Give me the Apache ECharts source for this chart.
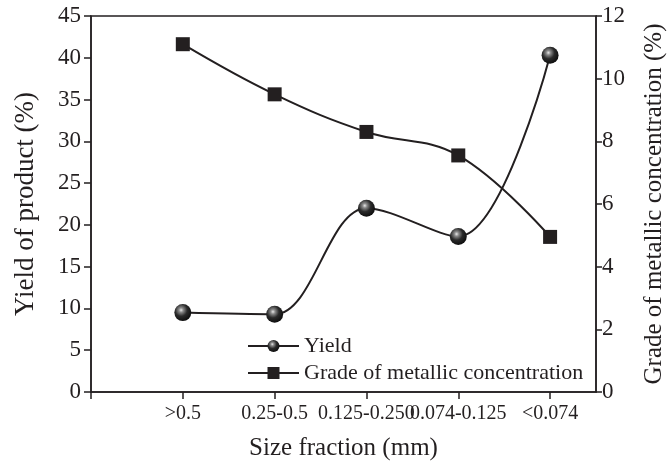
<!DOCTYPE html>
<html><head><meta charset="utf-8">
<script src="https://cdn.jsdelivr.net/npm/echarts@6/dist/echarts.min.js"></script>
<style>html,body{margin:0;padding:0;background:#fff}#c{width:672px;height:463px}</style>
</head><body><div id="c"></div>
<script>
var categories = ['>0.5', '0.25-0.5', '0.125-0.250', '0.074-0.125', '<0.074'];
var yieldValues = [9.5, 9.3, 22.0, 18.6, 40.3];
var gradeValues = [11.1, 9.5, 8.3, 7.55, 4.95];
var leftTicks = [0, 5, 10, 15, 20, 25, 30, 35, 40, 45];
var rightTicks = [0, 2, 4, 6, 8, 10, 12];

var FONT = 'Liberation Serif';
var INK = '#231f20';
var chart = echarts.init(document.getElementById('c'));
var sphere = {
  type: 'radial', x: 0.4, y: 0.35, r: 0.65,
  colorStops: [{offset: 0, color: '#e8e8e8'}, {offset: 0.2, color: '#8a8a8a'}, {offset: 0.55, color: '#2a2a2a'}, {offset: 1, color: '#0e0e0e'}]
};
chart.setOption({
  animation: false,
  grid: {left: 91, right: 76, top: 16, bottom: 71, outerBoundsMode: 'none', containLabel: false,
    show: true, borderColor: INK, borderWidth: 1.5, backgroundColor: 'transparent'},
  legend: {
    left: 247, top: 335, padding: 0, orient: 'vertical', itemGap: 5, itemWidth: 51, itemHeight: 15,
    textStyle: {fontFamily: FONT, fontSize: 22, color: INK},
    data: ['Yield', 'Grade of metallic concentration']
  },
  xAxis: {
    type: 'value', min: 0, max: 5.5, interval: 1,
    name: 'Size fraction (mm)', nameLocation: 'middle', nameGap: 44,
    nameTextStyle: {fontFamily: FONT, fontSize: 25, color: INK},
    axisLine: {show: true, lineStyle: {color: INK, width: 1.5}},
    axisTick: {show: true, length: 7, lineStyle: {color: INK, width: 1.5}, customValues: [0, 1, 2, 3, 4, 5]},
    axisLabel: {fontFamily: FONT, fontSize: 20, color: INK, margin: 12, customValues: [1, 2, 3, 4, 5],
      formatter: function (v) { var i = Math.round(v) - 1; return categories[i] || ''; }},
    splitLine: {show: false}
  },
  yAxis: [{
    type: 'value', min: 0, max: 45, interval: 5, position: 'left',
    name: 'Yield of product (%)', nameLocation: 'middle', nameGap: 52, nameRotate: 90,
    nameTextStyle: {fontFamily: FONT, fontSize: 27, color: INK},
    axisLine: {show: true, lineStyle: {color: INK, width: 1.5}},
    axisTick: {show: true, length: 7, lineStyle: {color: INK, width: 1.5}},
    axisLabel: {fontFamily: FONT, fontSize: 23, color: INK, margin: 10,
      formatter: function (v) { return leftTicks.indexOf(v) >= 0 ? String(v) : ''; }},
    splitLine: {show: false}
  }, {
    type: 'value', min: 0, max: 12, interval: 2, position: 'right',
    name: 'Grade of metallic concentration (%)', nameLocation: 'middle', nameGap: 46, nameRotate: 90,
    nameTextStyle: {fontFamily: FONT, fontSize: 25, color: INK},
    axisLine: {show: true, lineStyle: {color: INK, width: 1.5}},
    axisTick: {show: true, length: 6, lineStyle: {color: INK, width: 1.5}},
    axisLabel: {fontFamily: FONT, fontSize: 23, color: INK, margin: 6,
      formatter: function (v) { return rightTicks.indexOf(v) >= 0 ? String(v) : ''; }},
    splitLine: {show: false}
  }],
  series: [{
    name: 'Yield', type: 'line', yAxisIndex: 0, smooth: 0.35,
    symbol: 'circle', symbolSize: 17,
    itemStyle: {color: sphere, borderWidth: 0},
    lineStyle: {color: INK, width: 2},
    data: yieldValues.map(function (v, i) { return [i + 1, v]; })
  }, {
    name: 'Grade of metallic concentration', type: 'line', yAxisIndex: 1, smooth: 0.4,
    symbol: 'rect', symbolSize: 14,
    itemStyle: {color: INK},
    lineStyle: {color: INK, width: 2},
    data: gradeValues.map(function (v, i) { return [i + 1, v]; })
  }]
});
</script></body></html>
